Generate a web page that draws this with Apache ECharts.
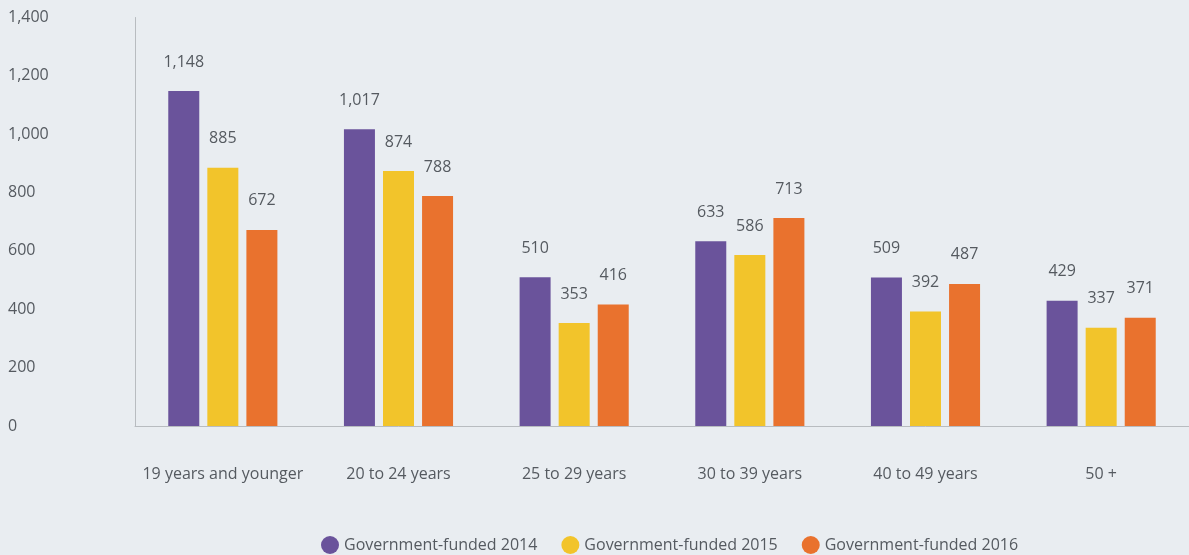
<!DOCTYPE html>
<html>
<head>
<meta charset="utf-8">
<script src="https://cdn.jsdelivr.net/npm/echarts@6/dist/echarts.min.js"></script>
<style>
html,body{margin:0;padding:0;background:#e9edf1;}
#c{width:1189px;height:555px;}
</style>
</head>
<body>
<div id="c"></div>
<script>
const categories = ['19 years and younger','20 to 24 years','25 to 29 years','30 to 39 years','40 to 49 years','50 +'];
const seriesNames = ['Government-funded 2014','Government-funded 2015','Government-funded 2016'];
const funded2014 = [1148, 1017, 510, 633, 509, 429];
const funded2015 = [885, 874, 353, 586, 392, 337];
const funded2016 = [672, 788, 416, 713, 487, 371];
const colors = ['#6a539b', '#f2c42b', '#e9722e'];

const font = '"Open Sans", sans-serif';
const textColor = '#555a60';
const fmt = v => Number(v).toLocaleString('en-US');

const chart = echarts.init(document.getElementById('c'), null, {renderer:'canvas'});
const mk = (name, data, i) => ({
  name, type:'bar', data,
  barWidth: 31, barGap: '26%',
  itemStyle:{color: colors[i]},
  label:{show:true, position:'top', distance:21, color:textColor, fontFamily:font, fontSize:16,
    formatter: p => fmt(p.value)},
  emphasis:{disabled:true}
});
chart.setOption({
  backgroundColor:'#e9edf1',
  animation:false,
  grid:{left:135, right:0, top:17.5, bottom:129},
  legend:{
    left:316, top:531, icon:'circle', itemWidth:18, itemHeight:18, itemGap:24,
    textStyle:{color:textColor, fontFamily:font, fontSize:16},
    data: seriesNames
  },
  xAxis:{
    type:'category', data:categories,
    axisLine:{show:true, lineStyle:{color:'#b8bcc0'}},
    axisTick:{show:false},
    axisLabel:{color:textColor, fontFamily:font, fontSize:16, margin:40, interval:0}
  },
  yAxis:{
    type:'value', min:0, max:1400, interval:200,
    axisLine:{show:true, lineStyle:{color:'#b8bcc0'}},
    axisTick:{show:false},
    splitLine:{show:false},
    axisLabel:{color:textColor, fontFamily:font, fontSize:16, align:'left', margin:127,
      formatter: v => fmt(v)}
  },
  series:[mk(seriesNames[0], funded2014, 0), mk(seriesNames[1], funded2015, 1), mk(seriesNames[2], funded2016, 2)]
});
</script>
</body>
</html>
